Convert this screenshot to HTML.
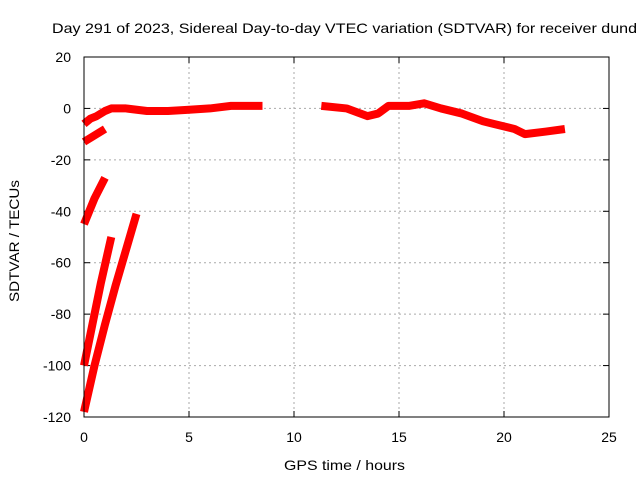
<!DOCTYPE html>
<html><head><meta charset="utf-8"><style>
body{margin:0;background:#fff}
svg text{font-family:"Liberation Sans",sans-serif;font-size:14px;fill:#000}
</style></head><body>
<svg id="c" width="640" height="480">
<text x="52" y="33" textLength="585" lengthAdjust="spacingAndGlyphs">Day 291 of 2023, Sidereal Day-to-day VTEC variation (SDTVAR) for receiver dund</text>
<g id="grid"></g><g id="ticks"></g><g id="series"></g>
<rect x="84" y="57" width="525" height="360" fill="none" stroke="#000"/>
<text x="284" y="470" textLength="121" lengthAdjust="spacingAndGlyphs">GPS time / hours</text>
<text transform="translate(19,302) rotate(-90)" textLength="122" lengthAdjust="spacingAndGlyphs">SDTVAR / TECUs</text>
</svg>
<script>
const xTicks=[0,5,10,15,20,25];
const yTicks=[20,0,-20,-40,-60,-80,-100,-120];
const s1t=[0,0.3,0.6,1,1.3,2,3,4,5,6,7,8,8.5];
const s1v=[-6,-4,-3,-1,0,0,-1,-1,-0.5,0,1,1,1];
const s2t=[11.3,12.5,13.5,14,14.5,15.5,16.2,17,18,19,19.5,20.5,21,22,22.9];
const s2v=[1,0,-3,-2,1,1,2,0,-2,-5,-6,-8,-10,-9,-8];
const s3t=[0,1];const s3v=[-13,-8];
const s4t=[0,0.5,1];const s4v=[-45,-35,-27];
const s5t=[0,0.4,0.8,1.3];const s5v=[-100,-84,-68,-50];
const s6t=[0,0.5,1,1.5,2,2.5];const s6v=[-118,-100,-84,-69,-55,-41];
const X=t=>84+t*21, Y=v=>57+(20-v)*360/140;
const ns="http://www.w3.org/2000/svg";
const g=document.getElementById('grid'),tk=document.getElementById('ticks'),sr=document.getElementById('series');
function mk(tag,a,p){const e=document.createElementNS(ns,tag);for(const k in a)e.setAttribute(k,a[k]);p.appendChild(e);return e;}
xTicks.forEach(t=>{
 if(t>0&&t<25){const l=mk('line',{x1:X(t),x2:X(t),y1:57,y2:417,stroke:'#aaa','stroke-dasharray':'2,3'},g);
 
 }
 const tx=mk('text',{x:X(t),y:442,'text-anchor':'middle'},tk);tx.textContent=t;
 
 
 mk('line',{x1:X(t),x2:X(t),y1:417,y2:411,stroke:'#000'},tk);
 mk('line',{x1:X(t),x2:X(t),y1:57,y2:63,stroke:'#000'},tk);
});
yTicks.forEach(v=>{
 if(v<20&&v>-120){const l=mk('line',{x1:84,x2:609,y1:Y(v),y2:Y(v),stroke:'#aaa','stroke-dasharray':'2,3'},g);
 
 }
 const tx=mk('text',{x:71,y:Y(v)+5,'text-anchor':'end'},tk);tx.textContent=v;
 
 
 mk('line',{x1:84,x2:90,y1:Y(v),y2:Y(v),stroke:'#000'},tk);
 mk('line',{x1:609,x2:603,y1:Y(v),y2:Y(v),stroke:'#000'},tk);
});
[[s1t,s1v],[s2t,s2v],[s3t,s3v],[s4t,s4v],[s5t,s5v],[s6t,s6v]].forEach((s,i)=>{
 const p=mk('polyline',{points:s[0].map((t,j)=>X(t)+','+Y(s[1][j])).join(' '),fill:'none',stroke:'#f00','stroke-width':8,'stroke-linejoin':'round'},sr);
 
 
});
</script>
</body></html>
